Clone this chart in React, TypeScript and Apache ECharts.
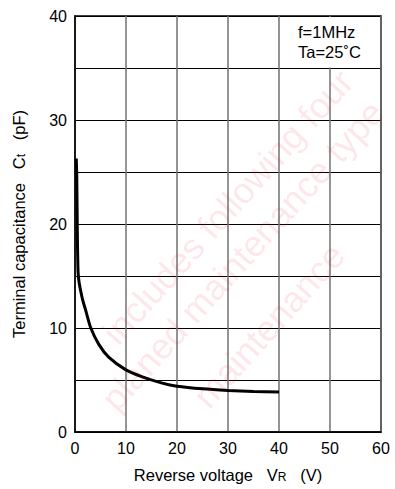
import React, { useEffect, useRef } from "react";
import * as echarts from "echarts";

// Reverse voltage VR (V)
const voltage = [0.25, 0.35, 0.45, 0.6, 0.8, 1.1, 1.5, 2.1, 3.1, 4.7, 6.6, 9.9, 13.2, 17.1, 20, 25, 30, 35, 40];
// Terminal capacitance Ct (pF)
const capacitance = [26.3, 24.5, 19.5, 15.4, 14.4, 13.6, 12.7, 11.7, 10, 8.4, 7.2, 6.0, 5.3, 4.7, 4.4, 4.15, 4.0, 3.9, 3.85];

const xTicks = [0, 10, 20, 30, 40, 50, 60];
const yTicks = [0, 10, 20, 30, 40];
const conditions = ["f=1MHz", "Ta=25˚C"];

const watermarkBig = "ontinued";
const watermarkLines = [
  "continued includes following four Product",
  "planed maintenance type",
  "maintenance type",
  "planed discontinued type",
  "includes following four",
];

const FONT = "'Liberation Sans', Arial, Helvetica, sans-serif";
const W = 395;
const H = 489;

function measure(text: string, font: string) {
  const c = document.createElement("canvas").getContext("2d");
  if (!c) return text.length * 10;
  c.font = font;
  return c.measureText(text).width;
}

// place tokens along a rotated baseline, keep only those fully inside the page
function layoutTokens(
  tokens: string[],
  sep: string,
  start: [number, number],
  angleDeg: number,
  fontSize: number,
  fill: string,
  tol: number
) {
  const font = `${fontSize}px ${FONT}`;
  const a = (angleDeg * Math.PI) / 180;
  const dx = Math.cos(a);
  const dy = -Math.sin(a);
  const px = Math.sin(a);
  const py = Math.cos(a);
  const sepW = measure(sep, font);
  const out: any[] = [];
  let s = 0;
  for (const tk of tokens) {
    const w = measure(tk, font);
    const x0 = start[0] + dx * s;
    const y0 = start[1] + dy * s;
    const hh = fontSize * 0.62;
    const corners = [
      [x0 - px * hh, y0 - py * hh],
      [x0 + px * hh, y0 + py * hh],
      [x0 + dx * w - px * hh, y0 + dy * w - py * hh],
      [x0 + dx * w + px * hh, y0 + dy * w + py * hh],
    ];
    const inside = corners.every(
      ([cx, cy]) => cx >= -tol && cx <= W + tol && cy >= -tol && cy <= H + tol
    );
    if (inside) {
      out.push({
        type: "text",
        x: x0,
        y: y0,
        rotation: a,
        silent: true,
        z: 20,
        style: {
          text: tk,
          fill,
          font,
          textAlign: "left",
          textVerticalAlign: "middle",
        },
      });
    }
    s += w + sepW;
  }
  return out;
}

export default function App() {
  const ref = useRef<HTMLDivElement>(null);

  useEffect(() => {
    if (!ref.current) return;
    const chart = echarts.init(ref.current, undefined, { renderer: "svg" });
    const data = voltage.map((v, i) => [v, capacitance[i]]);

    const wmStarts: [number, number][] = [
      [-2, 462],
      [108, 405],
      [200, 402],
      [193, 492],
      [250, 560],
    ];
    let wm: any[] = [];
    watermarkLines.forEach((t, i) => {
      wm = wm.concat(
        layoutTokens(t.split(" "), " ", wmStarts[i], 48, 36, "rgba(235,0,40,0.11)", 0)
      );
    });
    wm = wm.concat(
      layoutTokens(watermarkBig.split(""), "", [-64, 289], 52, 190, "rgba(235,0,40,0.14)", 0)
    );

    chart.setOption({
      animation: false,
      backgroundColor: "#fff",
      textStyle: { fontFamily: FONT },
      grid: {
        left: 75,
        right: 14,
        top: 16,
        bottom: 57,
        show: true,
        borderColor: "#000",
        borderWidth: 1.5,
        backgroundColor: "transparent",
      },
      xAxis: {
        type: "value",
        min: xTicks[0],
        max: xTicks[xTicks.length - 1],
        interval: 10,
        name: "Reverse voltage   V{s|R}   (V)",
        nameLocation: "middle",
        nameGap: 34,
        nameTextStyle: {
          color: "#000",
          fontSize: 16.5,
          rich: {
            s: { fontSize: 12, color: "#000", padding: [4, 0, 0, 0] },
          },
        },
        axisLine: { lineStyle: { color: "#000", width: 1.5 } },
        axisTick: { show: false },
        axisLabel: { color: "#000", fontSize: 16, margin: 8 },
        splitLine: { show: true, lineStyle: { color: "#707070", width: 1.5 } },
      },
      yAxis: {
        type: "value",
        min: yTicks[0],
        max: yTicks[yTicks.length - 1],
        interval: 5,
        name: "Terminal capacitance   C{s|t}   (pF)",
        nameLocation: "middle",
        nameGap: 48,
        nameTextStyle: {
          color: "#000",
          fontSize: 16.5,
          rich: {
            s: { fontSize: 12, color: "#000", padding: [4, 0, 0, 0] },
          },
        },
        axisLine: { lineStyle: { color: "#000", width: 1.5 } },
        axisTick: { show: false },
        axisLabel: {
          color: "#000",
          fontSize: 16,
          margin: 8,
          formatter: (v: number) => (yTicks.includes(v) ? String(v) : ""),
        },
        splitLine: { show: true, lineStyle: { color: "#000", width: 1.2 } },
      },
      graphic: [
        {
          type: "rect",
          shape: { x: 280.5, y: 17, width: 99.5, height: 50.5 },
          style: { fill: "#fff" },
          z: 1,
          silent: true,
        },
        ...conditions.map((t, i) => ({
          type: "text",
          x: 298,
          y: 32 + i * 20,
          z: 3,
          style: {
            text: t,
            fill: "#000",
            font: `16.5px ${FONT}`,
            textAlign: "left",
            textVerticalAlign: "middle",
          },
        })),
        ...wm,
      ],
      series: [
        {
          type: "line",
          data,
          showSymbol: false,
          smooth: 0.25,
          lineStyle: { color: "#000", width: 3 },
          z: 5,
        },
      ],
    });
    return () => chart.dispose();
  }, []);

  return (
    <div
      ref={ref}
      style={{ position: "fixed", left: 0, top: 0, width: W, height: H, background: "#fff" }}
    />
  );
}
